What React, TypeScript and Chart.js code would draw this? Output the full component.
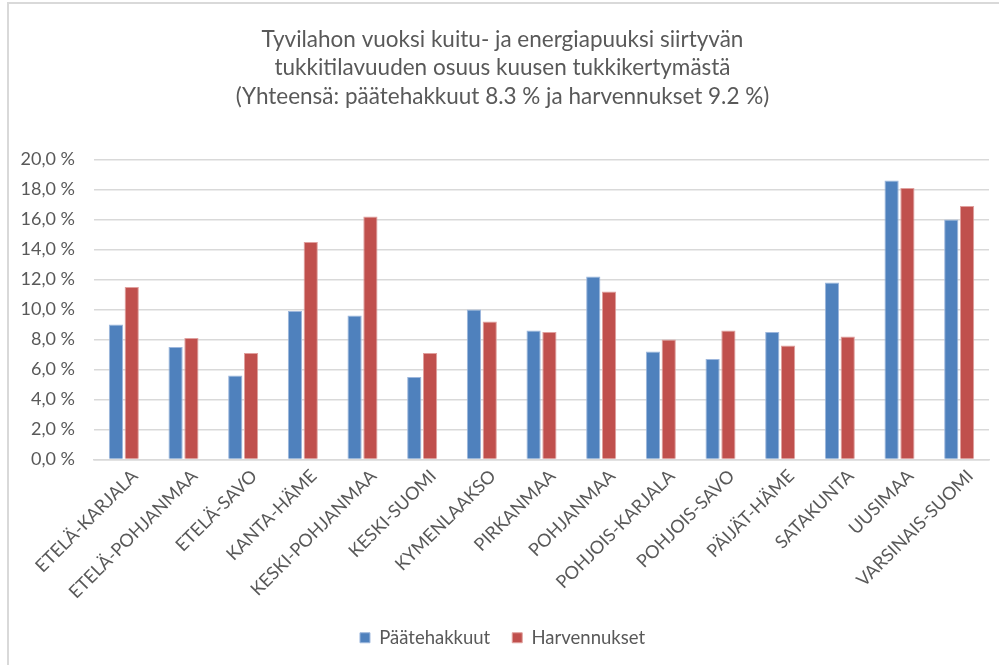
import React, { useEffect, useRef } from "react";
import { Chart, registerables } from "chart.js";

Chart.register(...registerables);

const categories = [
  "ETELÄ-KARJALA",
  "ETELÄ-POHJANMAA",
  "ETELÄ-SAVO",
  "KANTA-HÄME",
  "KESKI-POHJANMAA",
  "KESKI-SUOMI",
  "KYMENLAAKSO",
  "PIRKANMAA",
  "POHJANMAA",
  "POHJOIS-KARJALA",
  "POHJOIS-SAVO",
  "PÄIJÄT-HÄME",
  "SATAKUNTA",
  "UUSIMAA",
  "VARSINAIS-SUOMI",
];

const paatehakkuut = [9.0, 7.5, 5.6, 9.9, 9.6, 5.5, 10.0, 8.6, 12.2, 7.2, 6.7, 8.5, 11.8, 18.6, 16.0];
const harvennukset = [11.5, 8.1, 7.1, 14.5, 16.2, 7.1, 9.2, 8.5, 11.2, 8.0, 8.6, 7.6, 8.2, 18.1, 16.9];

const titleLines = [
  "Tyvilahon vuoksi kuitu- ja energiapuuksi siirtyvän",
  "tukkitilavuuden osuus kuusen tukkikertymästä",
  "(Yhteensä: päätehakkuut 8.3 % ja harvennukset 9.2 %)",
];

const seriesNames = ["Päätehakkuut", "Harvennukset"];

const FONT = "Lato, 'Open Sans', sans-serif";
const TEXT = "#595959";

export default function App() {
  const ref = useRef<HTMLCanvasElement | null>(null);

  useEffect(() => {
    if (!ref.current) return;
    const chart = new Chart(ref.current, {
      type: "bar",
      data: {
        labels: categories,
        datasets: [
          {
            label: seriesNames[0],
            data: paatehakkuut,
            backgroundColor: "#4F81BD",
            borderColor: "#9DB7DD",
            borderWidth: 1,
            categoryPercentage: 0.53,
            barPercentage: 0.9,
          },
          {
            label: seriesNames[1],
            data: harvennukset,
            backgroundColor: "#C0504D",
            borderColor: "#E0A09E",
            borderWidth: 1,
            categoryPercentage: 0.53,
            barPercentage: 0.9,
          },
        ],
      },
      options: {
        responsive: false,
        animation: false,
        devicePixelRatio: 1,
        layout: { padding: { left: 16, right: 10, top: 0, bottom: 8 } },
        plugins: {
          title: {
            display: true,
            text: titleLines,
            color: TEXT,
            font: { family: FONT, size: 22.5, weight: "normal", lineHeight: 1.267 },
            padding: { top: 25, bottom: 49 },
          },
          legend: {
            display: true,
            position: "bottom",
            labels: {
              color: TEXT,
              font: { family: FONT, size: 18.5 },
              boxWidth: 10,
              boxHeight: 10,
              padding: 22,
            },
          },
          tooltip: { enabled: false },
        },
        scales: {
          x: {
            grid: { display: false, drawTicks: false },
            border: { display: true, color: "#D9D9D9", width: 1.5 },
            ticks: {
              color: TEXT,
              font: { family: FONT, size: 18 },
              minRotation: 45,
              maxRotation: 45,
              autoSkip: false,
              padding: 6,
              labelOffset: 11,
            },
            afterFit: (scale: any) => {
              scale.height = 147;
            },
          },
          y: {
            min: 0,
            max: 20,
            grid: { color: "#D9D9D9", lineWidth: 1.5, drawTicks: false },
            border: { display: false },
            ticks: {
              stepSize: 2,
              color: TEXT,
              font: { family: FONT, size: 18 },
              padding: 19,
              callback: (v: any) => Number(v).toFixed(1).replace(".", ",") + " %",
            },
            afterFit: (scale: any) => {
              scale.width = 78;
            },
          },
        },
      },
    });
    return () => chart.destroy();
  }, []);

  return (
    <div
      style={{
        position: "fixed",
        left: 0,
        top: 0,
        width: 999,
        height: 665,
        background: "#fff",
        overflow: "hidden",
      }}
    >
      <canvas
        ref={ref}
        width={999}
        height={665}
        style={{ position: "absolute", left: 0, top: 0, width: 999, height: 665 }}
      />
      <div
        style={{
          position: "absolute",
          left: 7,
          top: 2,
          width: 992,
          height: 663,
          borderTop: "2px solid #D9D9D9",
          borderLeft: "2px solid #D9D9D9",
          pointerEvents: "none",
        }}
      />
    </div>
  );
}
